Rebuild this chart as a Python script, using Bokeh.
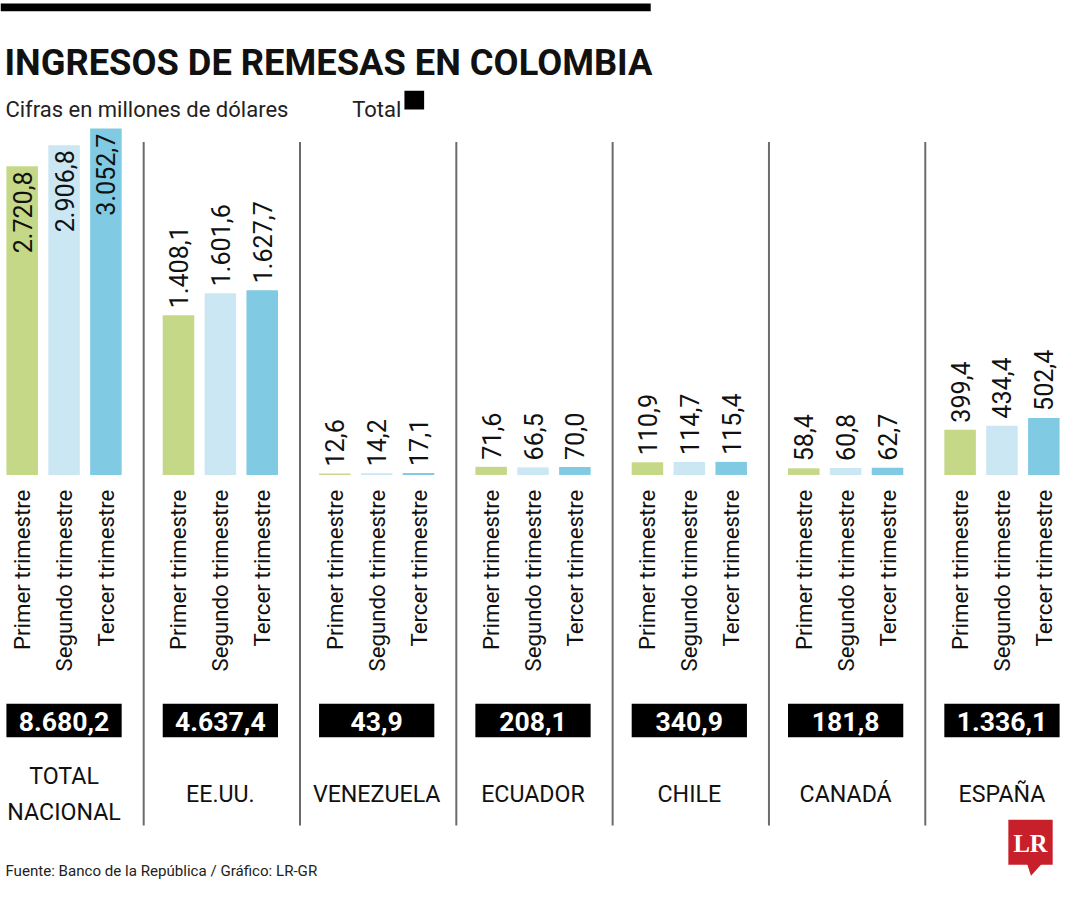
import math
from bokeh.plotting import figure
from bokeh.models import Range1d, ColumnDataSource
from bokeh.core.properties import value
from bokeh.embed import file_html
from bokeh.resources import INLINE

# ---------------- data ----------------
countries = ["TOTAL NACIONAL", "EE.UU.", "VENEZUELA", "ECUADOR", "CHILE", "CANADÁ", "ESPAÑA"]
country_labels = ["TOTAL\nNACIONAL", "EE.UU.", "VENEZUELA", "ECUADOR", "CHILE", "CANADÁ", "ESPAÑA"]
quarters = ["Primer trimestre", "Segundo trimestre", "Tercer trimestre"]
primer = [2720.8, 1408.1, 12.6, 71.6, 110.9, 58.4, 399.4]
segundo = [2906.8, 1601.6, 14.2, 66.5, 114.7, 60.8, 434.4]
tercer = [3052.7, 1627.7, 17.1, 70.0, 115.4, 62.7, 502.4]
totales = [8680.2, 4637.4, 43.9, 208.1, 340.9, 181.8, 1336.1]
colors = ["#c5d888", "#cae7f3", "#80cbe3"]

title = "INGRESOS DE REMESAS EN COLOMBIA"
subtitle = "Cifras en millones de dólares"
legend_total = "Total"
source_note = "Fuente: Banco de la República / Gráfico: LR-GR"

FONT = "Roboto"
W, H = 1064, 884
S = W / 1080.0

# layout (in reference pixels)
X0, GROUP, BAR, BAR_W = 22.0, 158.67, 42.5, 32.0


def fmt(v):
    s = f"{v:,.1f}"
    return s.replace(",", "X").replace(".", ",").replace("X", ".")


def fs(px):
    return f"{px * S:.1f}px"


series = [primer, segundo, tercer]
xs, tops, cols, labs, qlabs = [], [], [], [], []
for i, c in enumerate(countries):
    for j, q in enumerate(quarters):
        xs.append(X0 + i * GROUP + j * BAR)
        tops.append(series[j][i])
        cols.append(colors[j])
        labs.append(fmt(series[j][i]))
        qlabs.append(q)
mids = [X0 + i * GROUP + BAR for i in range(len(countries))]
seps = [X0 + i * GROUP - (GROUP - 2 * BAR) / 2 + 1.5 for i in range(1, len(countries))]

p = figure(width=W, height=H, x_range=Range1d(0, 1080), y_range=Range1d(-3610, 4182),
           output_backend="svg", toolbar_location=None, min_border=0,
           x_axis_location=None, y_axis_location=None)
p.extra_y_ranges = {"px": Range1d(900, 0)}
p.grid.visible = False
p.outline_line_color = None
p.background_fill_color = "white"
p.border_fill_color = "white"

src = ColumnDataSource(dict(x=xs, top=tops, color=cols, label=labs))
p.vbar(x="x", top="top", width=BAR_W, fill_color="color", line_color=None, source=src)

# value labels
inside = [t > 2500 for t in tops]
src_in = ColumnDataSource(dict(x=[x for x, f in zip(xs, inside) if f],
                               y=[t for t, f in zip(tops, inside) if f],
                               t=[l for l, f in zip(labs, inside) if f]))
src_out = ColumnDataSource(dict(x=[x for x, f in zip(xs, inside) if not f],
                                y=[t for t, f in zip(tops, inside) if not f],
                                t=[l for l, f in zip(labs, inside) if not f]))
p.text(x="x", y="y", text="t", source=src_in, angle=math.pi / 2, text_align="right",
       text_baseline="middle", y_offset=5, text_font=value(FONT), text_font_size=fs(25.5),
       text_color="#111111")
p.text(x="x", y="y", text="t", source=src_out, angle=math.pi / 2, text_align="left",
       text_baseline="middle", y_offset=-7, text_font=value(FONT), text_font_size=fs(25.5),
       text_color="#111111")

# quarter labels
p.text(x=xs, y=[498] * len(xs), text=qlabs, y_range_name="px",
       angle=math.pi / 2, text_align="right", text_baseline="middle",
       text_font=value(FONT), text_font_size=fs(22.5), text_color="#111111")

# separators
p.segment(x0=seps, x1=seps, y0=[144] * len(seps), y1=[840] * len(seps), y_range_name="px",
          line_color="#6b6b6b", line_width=2)

# total boxes
p.rect(x=mids, y=[733] * len(mids), width=117, height=34, y_range_name="px",
       fill_color="black", line_color=None)
p.text(x=mids, y=[734] * len(mids), text=[fmt(t) for t in totales], y_range_name="px",
       text_align="center", text_baseline="middle", text_font=value(FONT),
       text_font_style="bold", text_font_size=fs(27), text_color="white")

# country labels
p.text(x=mids, y=[808] * len(mids), text=country_labels, y_range_name="px",
       text_align="center", text_baseline="middle", text_font=value(FONT),
       text_font_size=fs(23.5), text_color="#111111", text_line_height=1.3)

# header
p.quad(left=[0], right=[660], top=[3], bottom=[11], y_range_name="px",
       fill_color="black", line_color=None)
p.text(x=[4], y=[63], text=[title], y_range_name="px",
       text_align="left", text_baseline="alphabetic", text_font=value(FONT),
       text_font_style="bold", text_font_size=fs(36.8), text_color="#111111")
p.text(x=[5], y=[111], text=[subtitle], y_range_name="px",
       text_align="left", text_baseline="alphabetic", text_font=value(FONT),
       text_font_size=fs(22.3), text_color="#222222")
p.text(x=[357], y=[111], text=[legend_total], y_range_name="px",
       text_align="left", text_baseline="alphabetic", text_font=value(FONT),
       text_font_size=fs(22.3), text_color="#222222")
p.quad(left=[410], right=[430], top=[92], bottom=[111], y_range_name="px",
       fill_color="black", line_color=None)

# footer
p.text(x=[5], y=[886], text=[source_note], y_range_name="px",
       text_align="left", text_baseline="alphabetic", text_font=value(FONT),
       text_font_size=fs(15.3), text_color="#222222")

# LR logo
p.quad(left=[1023], right=[1068], top=[834], bottom=[880], y_range_name="px",
       fill_color="#c8202a", line_color=None)
p.patch(x=[1042, 1057, 1046], y=[879, 879, 891], y_range_name="px",
        fill_color="#c8202a", line_color=None)
p.text(x=[1045.5], y=[858], text=["LR"], y_range_name="px",
       text_align="center", text_baseline="middle", text_font=value("Liberation Serif"),
       text_font_style="bold", text_font_size=fs(25), text_color="white")

open("out.html", "w").write(file_html(p, INLINE))
